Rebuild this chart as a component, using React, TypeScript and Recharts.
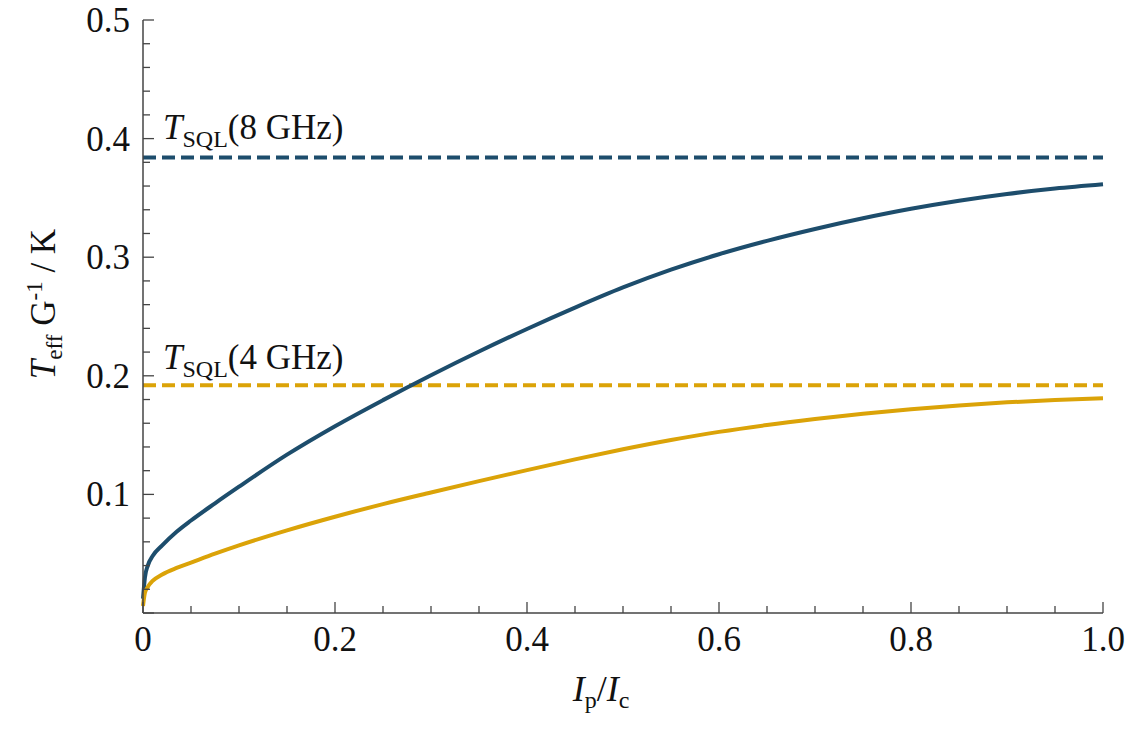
import React from 'react';
import { LineChart, Line, XAxis, YAxis, ReferenceLine } from 'recharts';

const ipRatio = [
  0, 0.002, 0.005, 0.01, 0.02, 0.035, 0.05, 0.075, 0.1, 0.15, 0.2, 0.25, 0.3, 0.35,
  0.4, 0.45, 0.5, 0.55, 0.6, 0.65, 0.7, 0.75, 0.8, 0.85, 0.9, 0.95, 1.0,
];
// T_eff G^-1 (K) at 8 GHz
const tEff8GHz = [
  0.012, 0.03, 0.04, 0.048, 0.057, 0.0685, 0.078, 0.0925, 0.1065, 0.1335, 0.1575, 0.1795,
  0.2005, 0.2205, 0.2395, 0.2575, 0.2745, 0.2895, 0.3025, 0.3138, 0.3238, 0.3328, 0.3408,
  0.3476, 0.3533, 0.3579, 0.3615,
];
// T_eff G^-1 (K) at 4 GHz
const tEff4GHz = [
  0.006, 0.017, 0.022, 0.027, 0.0325, 0.038, 0.0425, 0.05, 0.057, 0.0697, 0.0812, 0.0918,
  0.1016, 0.1112, 0.1205, 0.1295, 0.138, 0.1458, 0.1527, 0.1585, 0.1635, 0.168, 0.1718,
  0.175, 0.1776, 0.1796, 0.181,
];
const tSql8GHz = 0.384;
const tSql4GHz = 0.192;

const xTicks = [
  0, 0.05, 0.1, 0.15, 0.2, 0.25, 0.3, 0.35, 0.4, 0.45, 0.5, 0.55, 0.6, 0.65, 0.7, 0.75,
  0.8, 0.85, 0.9, 0.95, 1.0,
];
const xMajorTicks = [0, 0.2, 0.4, 0.6, 0.8, 1.0];
const xTickLabels = ['0', '0.2', '0.4', '0.6', '0.8', '1.0'];
const yTicks = [
  0, 0.02, 0.04, 0.06, 0.08, 0.1, 0.12, 0.14, 0.16, 0.18, 0.2, 0.22, 0.24, 0.26, 0.28,
  0.3, 0.32, 0.34, 0.36, 0.38, 0.4, 0.42, 0.44, 0.46, 0.48, 0.5,
];
const yMajorTicks = [0, 0.1, 0.2, 0.3, 0.4, 0.5];
const yTickLabels = ['', '0.1', '0.2', '0.3', '0.4', '0.5'];

const data = ipRatio.map((x, i) => ({ x, t8: tEff8GHz[i], t4: tEff4GHz[i] }));

const SERIF = 'Liberation Serif, Tinos, Times New Roman, Nimbus Roman, DejaVu Serif, serif';
const BLUE = '#1d4d6c';
const GOLD = '#dba308';
const FRAME = '#444';
const textStyle = { fontFamily: SERIF };

function majorIndex(v: number, majors: number[]) {
  return majors.findIndex((m) => Math.abs(m - v) < 1e-9);
}

interface TickProps {
  x?: number;
  y?: number;
  payload?: { value: number };
  side: 'bottom' | 'top' | 'left' | 'right';
}

function FrameTick({ x = 0, y = 0, payload, side }: TickProps) {
  const v = payload ? payload.value : 0;
  const horizontal = side === 'bottom' || side === 'top';
  const idx = majorIndex(v, horizontal ? xMajorTicks : yMajorTicks);
  const len = idx >= 0 ? 11 : 7;
  let line;
  if (side === 'bottom') line = <line x1={x} y1={y} x2={x} y2={y - len} />;
  else if (side === 'top') line = <line x1={x} y1={y} x2={x} y2={y + len} />;
  else if (side === 'left') line = <line x1={x} y1={y} x2={x + len} y2={y} />;
  else line = <line x1={x} y1={y} x2={x - len} y2={y} />;
  return (
    <g>
      <g stroke={FRAME} strokeWidth={1.3}>{line}</g>
      {side === 'bottom' && idx >= 0 && (
        <text x={x} y={y + 38} textAnchor="middle" style={textStyle} fontSize={35} fill="#111">
          {xTickLabels[idx]}
        </text>
      )}
      {side === 'left' && idx >= 0 && (
        <text x={x - 13} y={y + 12} textAnchor="end" style={textStyle} fontSize={35} fill="#111">
          {yTickLabels[idx]}
        </text>
      )}
    </g>
  );
}

function SqlLabel({ viewBox, freq, lift }: { viewBox?: { x: number; y: number }; freq: string; lift: number }) {
  if (!viewBox) return null;
  return (
    <text x={viewBox.x + 20} y={viewBox.y - lift} style={textStyle} fontSize={35} fill="#111">
      <tspan fontStyle="italic">T</tspan>
      <tspan fontSize={24} dy={8}>SQL</tspan>
      <tspan dy={-8}>({freq} GHz)</tspan>
    </text>
  );
}

function XTitle({ viewBox }: { viewBox?: { x: number; y: number; width: number } }) {
  if (!viewBox) return null;
  return (
    <text x={viewBox.x + viewBox.width / 2 - 22} y={viewBox.y + 88} textAnchor="middle" style={textStyle} fontSize={36} fill="#111">
      <tspan fontStyle="italic">I</tspan>
      <tspan fontSize={24} dy={7}>p</tspan>
      <tspan dy={-7}>/</tspan>
      <tspan fontStyle="italic">I</tspan>
      <tspan fontSize={24} dy={7}>c</tspan>
    </text>
  );
}

function YTitle({ viewBox }: { viewBox?: { x: number; y: number; height: number } }) {
  if (!viewBox) return null;
  const cx = viewBox.x + 55;
  const cy = viewBox.y + 284;
  return (
    <text x={cx} y={cy} transform={`rotate(-90, ${cx}, ${cy})`} textAnchor="middle" style={textStyle} fontSize={35} fill="#111">
      <tspan fontStyle="italic">T</tspan>
      <tspan fontSize={23} dy={7}>eff</tspan>
      <tspan dy={-7}> G</tspan>
      <tspan fontSize={23} dy={-13}>-1</tspan>
      <tspan dy={13}> / K</tspan>
    </text>
  );
}

export default function App() {
  return (
    <div style={{ position: 'absolute', left: 0, top: 0, background: '#fff' }}>
      <LineChart width={1140} height={732} data={data} margin={{ top: 20, right: 37, left: 0, bottom: 0 }}>
        <XAxis
          dataKey="x"
          type="number"
          domain={[0, 1]}
          ticks={xTicks}
          interval={0}
          height={119}
          tickSize={0}
          tickMargin={0}
          tickLine={false}
          axisLine={{ stroke: FRAME, strokeWidth: 1.5 }}
          tick={(p: any) => <FrameTick {...p} side="bottom" />}
          label={(p: any) => <XTitle {...p} />}
        />
        <XAxis
          xAxisId="top"
          orientation="top"
          type="number"
          domain={[0, 1]}
          allowDataOverflow
          ticks={xTicks}
          interval={0}
          height={0}
          tickSize={0}
          tickMargin={0}
          tickLine={false}
          axisLine={{ stroke: FRAME, strokeWidth: 1.5 }}
          tick={(p: any) => <FrameTick {...p} side="top" />}
        />
        <YAxis
          type="number"
          domain={[0, 0.5]}
          allowDataOverflow
          ticks={yTicks}
          interval={0}
          width={143}
          tickSize={0}
          tickMargin={0}
          tickLine={false}
          axisLine={{ stroke: FRAME, strokeWidth: 1.5 }}
          tick={(p: any) => <FrameTick {...p} side="left" />}
          label={(p: any) => <YTitle {...p} />}
        />
        <YAxis
          yAxisId="right"
          orientation="right"
          type="number"
          domain={[0, 0.5]}
          allowDataOverflow
          ticks={yTicks}
          interval={0}
          width={0}
          tickSize={0}
          tickMargin={0}
          tickLine={false}
          axisLine={{ stroke: FRAME, strokeWidth: 1.5 }}
          tick={(p: any) => <FrameTick {...p} side="right" />}
        />
        <ReferenceLine
          y={tSql8GHz}
          stroke={BLUE}
          strokeWidth={4}
          strokeDasharray="13 6"
          label={(p: any) => <SqlLabel {...p} freq="8" lift={19} />}
        />
        <ReferenceLine
          y={tSql4GHz}
          stroke={GOLD}
          strokeWidth={4}
          strokeDasharray="13 6"
          label={(p: any) => <SqlLabel {...p} freq="4" lift={16} />}
        />
        <Line type="monotone" dataKey="t8" stroke={BLUE} strokeWidth={4} dot={false} activeDot={false} isAnimationActive={false} />
        <Line type="monotone" dataKey="t4" stroke={GOLD} strokeWidth={4} dot={false} activeDot={false} isAnimationActive={false} />
      </LineChart>
    </div>
  );
}
